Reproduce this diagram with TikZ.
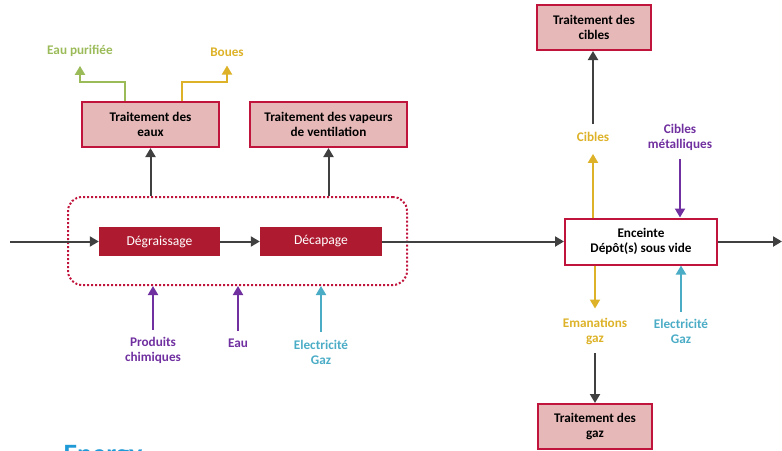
\documentclass[tikz,border=0pt]{standalone}
\usepackage{fontspec}
\setmainfont{Carlito}
\usepackage{tikz}
\usetikzlibrary{arrows.meta,positioning,calc}
\definecolor{procred}{HTML}{AE1A2F}
\definecolor{borderred}{HTML}{C0143C}
\definecolor{treatpink}{HTML}{E6B9B8}
\definecolor{arrowgray}{HTML}{404040}
\definecolor{mustard}{HTML}{DDB228}
\definecolor{leafgreen}{HTML}{9BBB59}
\definecolor{inpurple}{HTML}{7030A0}
\definecolor{incyan}{HTML}{4BACC6}
\definecolor{brandblue}{HTML}{1F9AD6}
\newcommand{\lblfont}{\fontsize{13.2}{15}\selectfont}
\tikzset{
    treat/.style={rectangle, draw=borderred, line width=2pt, fill=treatpink, font=\lblfont\bfseries, align=center, minimum height=45pt, inner sep=2pt},
    proc/.style={rectangle, fill=procred, text=white, font=\fontsize{13.6}{15}\selectfont, minimum height=29pt, inner sep=2pt},
    chamber/.style={rectangle, draw=borderred, line width=2pt, fill=white, font=\lblfont\bfseries, align=center, minimum width=152pt, minimum height=46pt, inner sep=2pt},
    group/.style={rectangle, draw=borderred, dotted, line width=2pt, rounded corners=14pt},
    flow/.style={font=\lblfont\bfseries, align=center, inner sep=2pt},
    line/.style={draw=arrowgray, line width=2pt, -{Triangle[length=9pt,width=10pt]}}
}

\begin{document}
\begin{tikzpicture}[x=1pt, y=-1pt]
    \useasboundingbox (0,0) rectangle (782,450);

    % Process chain
    \node [group, minimum width=339pt, minimum height=88pt] (bath) at (237.5,241) {};
    \node [proc, minimum width=121pt] (degr) at (159.5,241.5) {Dégraissage};
    \node [proc, minimum width=122pt] (decap) at (321,241.5) {Décapage};
    \node [chamber] (encl) at (641,241.5) {Enceinte\\Dépôt(s) sous vide};
    \coordinate (in) at (10,241.5);
    \coordinate (out) at (782,241.5);

    % Treatment units
    \node [treat, minimum width=137pt] (waterT) at (150.5,124.5) {Traitement des\\eaux};
    \node [treat, minimum width=157pt] (vapourT) at (328.5,124.5) {Traitement des vapeurs\\de ventilation};
    \node [treat, minimum width=114pt] (targetT) at (594,27.5) {Traitement des\\cibles};
    \node [treat, minimum width=114pt] (gasT) at (595,426.5) {Traitement des\\gaz};

    % Flow labels
    \node [flow, text=leafgreen] (purified) at (80,51) {Eau purifiée};
    \node [flow, text=mustard] (sludge) at (227,52) {Boues};
    \node [flow, text=inpurple] (chem) at (153,350) {Produits\\chimiques};
    \node [flow, text=inpurple] (water) at (238,343) {Eau};
    \node [flow, text=incyan] (energyL) at (321,352) {Electricité\\Gaz};
    \node [flow, text=mustard] (targets) at (593,137) {Cibles};
    \node [flow, text=inpurple] (metal) at (680,137) {Cibles\\métalliques};
    \node [flow, text=mustard] (fumes) at (595,331) {Emanations\\gaz};
    \node [flow, text=incyan] (energyR) at (681,331) {Electricité\\Gaz};

    \node [anchor=base west, font=\fontsize{28}{30}\selectfont\bfseries, text=brandblue] (brand) at (60,463) {Energy};

    % Main line
    \path [line] (in) -- (degr);
    \path [line] (degr) -- (decap);
    \path [line] (decap) -- (encl);
    \path [line] (encl) -- (out);

    % Towards treatments
    \path [line] (bath.north -| waterT.south) -- (waterT.south);
    \path [line] (bath.north -| vapourT.south) -- (vapourT.south);
    \path [line, draw=leafgreen] ([xshift=-26pt]waterT.north) -- ++(0,-19) -| ([yshift=-7pt]purified.south);
    \path [line, draw=mustard] ([xshift=31.5pt]waterT.north) -- ++(0,-19) -| ([yshift=-7pt]sludge.south);

    % Inputs of the bath
    \path [line, draw=inpurple] ([yshift=5pt]chem.north) -- (chem.north |- bath.south);
    \path [line, draw=inpurple] ([yshift=5pt]water.north) -- (water.north |- bath.south);
    \path [line, draw=incyan] ([yshift=6pt]energyL.north) -- (energyL.north |- bath.south);

    % Around the chamber
    \path [line, draw=mustard] (encl.north -| targets.south) -- ([yshift=-10pt]targets.south);
    \path [line] ([yshift=6pt]targets.north) -- (targets.north |- targetT.south);
    \path [line, draw=inpurple] ([yshift=-7pt]metal.south) -- (metal.south |- encl.north);
    \path [line, draw=mustard] (encl.south -| fumes.north) -- ([yshift=7pt]fumes.north);
    \path [line] ([yshift=-7pt]fumes.south) -- (fumes.south |- gasT.north);
    \path [line, draw=incyan] ([yshift=5pt]energyR.north) -- (energyR.north |- encl.south);
\end{tikzpicture}
\end{document}
